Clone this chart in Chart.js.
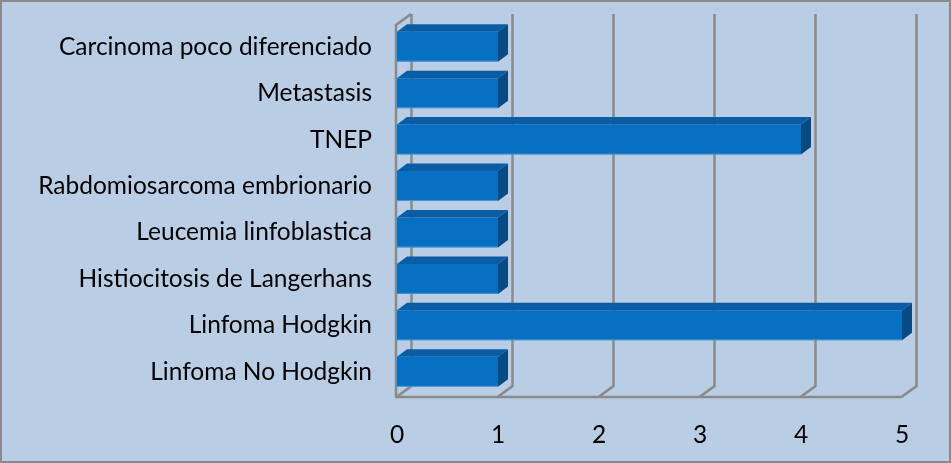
<!DOCTYPE html>
<html>
<head>
<meta charset="utf-8">
<script src="https://cdn.jsdelivr.net/npm/chart.js@4.4.1/dist/chart.umd.min.js"></script>
<style>
html,body{margin:0;padding:0;background:#B9CDE5;}
#wrap{width:951px;height:463px;position:relative;}
</style>
</head>
<body>
<div id="wrap"><canvas id="c" width="951" height="463"></canvas></div>
<script>
const categories = [
  "Carcinoma poco diferenciado",
  "Metastasis",
  "TNEP",
  "Rabdomiosarcoma embrionario",
  "Leucemia linfoblastica",
  "Histiocitosis de Langerhans",
  "Linfoma Hodgkin",
  "Linfoma No Hodgkin"
];
const values = [1, 1, 4, 1, 1, 1, 5, 1];
const xTicks = [0, 1, 2, 3, 4, 5];

const WALL_DX = 15, WALL_DY = -11;
const BAR_DX = 10, BAR_DY = -7.5;
const GRID = '#8A8A8A';

const bg = {
  id: 'bg',
  beforeDraw(chart) {
    const ctx = chart.ctx;
    ctx.save();
    ctx.fillStyle = '#B9CDE5';
    ctx.fillRect(0, 0, chart.width, chart.height);
    ctx.strokeStyle = '#8A8A8A';
    ctx.lineWidth = 2;
    ctx.strokeRect(1, 1, chart.width - 2, chart.height - 2);
    ctx.restore();
  }
};

const walls = {
  id: 'walls',
  beforeDatasetsDraw(chart) {
    const ctx = chart.ctx, a = chart.chartArea, xs = chart.scales.x;
    const yFront = a.bottom + 2, yTopFront = a.top + 1.5;
    ctx.save();
    ctx.strokeStyle = GRID;
    ctx.lineWidth = 2.5;
    ctx.lineCap = 'butt';
    ctx.beginPath();
    xTicks.forEach(t => {
      const fx = xs.getPixelForValue(t) - 0.5;
      const bx = fx + WALL_DX;
      ctx.moveTo(bx, yTopFront + WALL_DY);
      ctx.lineTo(bx, yFront + WALL_DY);
      ctx.lineTo(fx, yFront);
    });
    const f0 = xs.getPixelForValue(xTicks[0]) - 1;
    const f5 = xs.getPixelForValue(xTicks[xTicks.length - 1]) - 0.5;
    ctx.moveTo(f0 - 1, yFront);
    ctx.lineTo(f5, yFront);
    ctx.moveTo(f0, yFront);
    ctx.lineTo(f0, yTopFront);
    ctx.lineTo(f0 + WALL_DX, yTopFront + WALL_DY);
    ctx.stroke();
    ctx.restore();
  },
  afterDatasetsDraw(chart) {
    const ctx = chart.ctx;
    const meta = chart.getDatasetMeta(0);
    ctx.save();
    meta.data.forEach(bar => {
      const p = bar.getProps(['x', 'y', 'base', 'height'], true);
      const x0 = p.base, x1 = p.x;
      const top = p.y - p.height / 2, bot = p.y + p.height / 2;
      ctx.fillStyle = '#0A5CA4';
      ctx.beginPath();
      ctx.moveTo(x0, top);
      ctx.lineTo(x0 + BAR_DX, top + BAR_DY);
      ctx.lineTo(x1 + BAR_DX, top + BAR_DY);
      ctx.lineTo(x1, top);
      ctx.closePath();
      ctx.fill();
      ctx.fillStyle = '#064B86';
      ctx.beginPath();
      ctx.moveTo(x1, top);
      ctx.lineTo(x1 + BAR_DX, top + BAR_DY);
      ctx.lineTo(x1 + BAR_DX, bot + BAR_DY);
      ctx.lineTo(x1, bot);
      ctx.closePath();
      ctx.fill();
      ctx.fillStyle = 'rgba(120,170,220,0.6)';
      ctx.fillRect(x0, bot - 1, x1 - x0, 1);
    });
    ctx.restore();
  }
};

new Chart(document.getElementById('c'), {
  type: 'bar',
  data: {
    labels: categories,
    datasets: [{
      data: values,
      backgroundColor: '#0870C2',
      borderWidth: 0,
      categoryPercentage: 1,
      barPercentage: 0.645
    }]
  },
  options: {
    indexAxis: 'y',
    responsive: false,
    animation: false,
    devicePixelRatio: 1,
    layout: { padding: { top: 23.5, right: 49, left: 0, bottom: 0 } },
    plugins: { legend: { display: false }, tooltip: { enabled: false } },
    scales: {
      x: {
        min: 0, max: 5,
        afterBuildTicks(scale) { scale.ticks = xTicks.map(v => ({ value: v })); },
        afterFit(scale) { scale.height = 68; scale.paddingLeft = 0; scale.paddingRight = 0; },
        grid: { display: false, drawTicks: false },
        border: { display: false },
        ticks: {
          color: '#000',
          font: { family: 'Lato', size: 24.5 },
          padding: 25,
          maxRotation: 0,
          callback: v => String(v)
        }
      },
      y: {
        afterFit(scale) { scale.width = 397; scale.paddingTop = 0; scale.paddingBottom = 0; },
        grid: { display: false, drawTicks: false },
        border: { display: false },
        ticks: {
          color: '#000',
          font: { family: 'Lato', size: 24.5 },
          padding: 25
        }
      }
    }
  },
  plugins: [bg, walls]
});
</script>
</body>
</html>
